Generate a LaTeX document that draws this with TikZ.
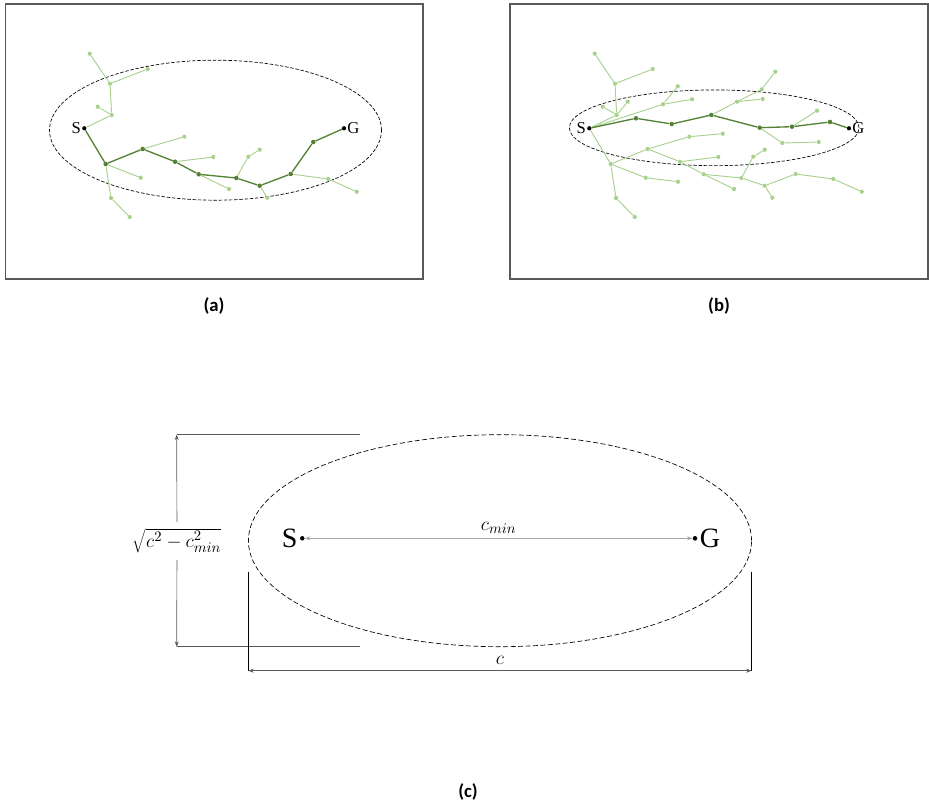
\documentclass[tikz,border=0pt]{standalone}
\usepackage{fontspec}
\setmainfont{Liberation Serif}
\newfontfamily\capfont{Carlito}
\usetikzlibrary{arrows.meta}
\definecolor{framegray}{HTML}{595959}
\definecolor{rulegray}{HTML}{A6A6A6}
\definecolor{pathgreen}{HTML}{548235}
\definecolor{treegreen}{HTML}{A9D18E}
\tikzset{
  panel/.style={draw=framegray,line width=0.8pt},
  region/.style={draw=black,dash pattern=on 2.6pt off 1.3pt,line width=0.5pt},
  branch/.style={draw=treegreen,line width=0.7pt},
  route/.style={draw=pathgreen,line width=1pt},
  leaf/.style={circle,fill=treegreen,inner sep=0pt,minimum size=3.2pt},
  hop/.style={circle,fill=pathgreen,inner sep=0pt,minimum size=3.4pt},
  term/.style={circle,fill=black,inner sep=0pt,minimum size=3.2pt},
  endlabel/.style={font=\fontsize{12.5}{14}\selectfont,inner sep=0.6pt},
  caption/.style={font=\capfont\bfseries\fontsize{14}{16}\selectfont}
}

\begin{document}
\begin{tikzpicture}[
  x=0.75pt,y=-0.75pt,
  tip/.style={-{Stealth[length=4pt,width=3pt]}},
  measure/.style={tip,draw=framegray,line width=0.5pt},
  guide/.style={draw=framegray,line width=0.9pt},
  tick/.style={draw=black,line width=0.9pt},
  bigend/.style={font=\fontsize{21}{24}\selectfont,inner sep=1.5pt},
  mathlabel/.style={font=\fontsize{15}{17}\selectfont}
]
  \useasboundingbox (0,0) rectangle (929,806);

  % (a)
  \draw[panel] (5.5,4) rectangle (423,279);
  \draw[region] (215.5,130.2) ellipse [x radius=124.5pt,y radius=52.5pt];
  \foreach \n/\x/\y in {u1/111.7/115,u2/97.7/106.7,u3/110/83.7,u4/89.7/53.7,
      u5/147.7/69,b1/140.7/177.7,b2/111/198,b3/129.7/217,b4/184.3/136.7,
      b5/213.3/157,b6/229/189,b7/248.3/156.7,b8/259.7/149.7,b9/267.3/197.7,
      b10/328.3/179,b11/356.7/191.7}
    \node[leaf] (a-\n) at (\x,\y) {};
  \foreach \n/\x/\y in {p1/105.7/164,p2/142.7/149,p3/175/161.7,p4/198.7/174.3,
      p5/236.3/178,p6/259.7/185.7,p7/290.7/174,p8/313.3/142}
    \node[hop] (a-\n) at (\x,\y) {};
  \node[term] (a-s) at (84.3,128.3) {};
  \node[term] (a-g) at (344,128.3) {};
  \node[endlabel,anchor=east] (a-slabel) at (a-s.west) {S};
  \node[endlabel,anchor=west] (a-glabel) at (a-g.east) {G};
  \foreach \u/\v in {s/u1,u1/u2,u1/u3,u3/u4,u3/u5,p1/b1,p1/b2,b2/b3,p2/b4,
      p3/b5,p4/b6,p5/b7,b7/b8,p6/b9,p7/b10,b10/b11}
    \draw[branch] (a-\u)--(a-\v);
  \foreach \u/\v in {s/p1,p1/p2,p2/p3,p3/p4,p4/p5,p5/p6,p6/p7,p7/p8,p8/g}
    \draw[route] (a-\u)--(a-\v);
  \node[caption] (a-cap) at (214,306) {(a)};

  % (b)
  \draw[panel] (510,4) rectangle (928,279);
  \begin{scope}[shift={(505,0)}]
    \draw[region] (209.2,127.8) ellipse [x radius=108.6pt,y radius=28.4pt];
    \foreach \n/\x/\y in {u1/111.7/115,u2/97.7/106.7,u3/110/83.7,u4/89.7/53.7,
        u5/147.7/69,u6/122.7/101.7,b1/140.7/177.7,b2/111/198,b3/129.7/217,
        b4/184.3/136.7,b5/213.3/157,b6/229/189,b7/248.3/156.7,b8/259.7/149.7,
        b9/267.3/197.7,b10/328.3/179,b11/356.7/191.7,p1/105.7/164,p2/142.7/149,
        p3/175/161.7,p4/198.7/174.3,p5/236.3/178,p6/259.7/185.7,p7/290.7/174,
        c1/158/104.3,c2/172.7/86.3,c3/187/99.3,c4/232/101.7,c5/256.7/89.3,
        c6/270.3/71.7,c7/257.7/99,c8/277.3/143,c9/313.7/142,c10/312/110.7,
        c11/173/181.7,c12/217.7/133.7}
      \node[leaf] (b-\n) at (\x,\y) {};
    \foreach \n/\x/\y in {q1/131/118.3,q2/166.7/124,q3/206.3/115,
        q4/254.7/127.7,q5/287/126.7,q6/325/122}
      \node[hop] (b-\n) at (\x,\y) {};
    \node[term] (b-s) at (84.3,128.3) {};
    \node[term] (b-g) at (344,128.3) {};
    \node[endlabel,anchor=east] (b-slabel) at (b-s.west) {S};
    \node[endlabel,anchor=west] (b-glabel) at (b-g.east) {G};
    \foreach \u/\v in {s/u1,u1/u2,u1/u3,u3/u4,u3/u5,u1/u6,s/c1,c1/c2,c1/c3,
        s/p1,p1/p2,p2/p3,p3/p4,p4/p5,p5/p6,p6/p7,p1/b1,b1/c11,p1/b2,b2/b3,
        p2/b4,b4/c12,p3/b5,p4/b6,p5/b7,b7/b8,p6/b9,p7/b10,b10/b11,
        q3/c4,c4/c5,c5/c6,c4/c7,q4/c8,c8/c9,q5/c10}
      \draw[branch] (b-\u)--(b-\v);
    \foreach \u/\v in {s/q1,q1/q2,q2/q3,q3/q4,q4/q5,q5/q6,q6/g}
      \draw[route] (b-\u)--(b-\v);
  \end{scope}
  \node[caption] (b-cap) at (719,306) {(b)};

  % (c)
  \draw[region,dash pattern=on 3.7pt off 1.9pt] (500,540.7)
    ellipse [x radius=188.7pt,y radius=79.5pt];
  \node[term,minimum size=3.4pt] (c-s) at (302.3,538.3) {};
  \node[term,minimum size=3.4pt] (c-g) at (695,538.3) {};
  \node[bigend,anchor=east] (c-slabel) at (c-s.west) {S};
  \node[bigend,anchor=west] (c-glabel) at (c-g.east) {G};
  \draw[{Stealth[length=4pt,width=3pt]}-{Stealth[length=4pt,width=3pt]},
    draw=rulegray,line width=1pt] (c-s)--node[mathlabel,above=0pt] {$c_{min}$} (c-g);

  \coordinate (htop) at (176.7,434.7);
  \coordinate (hbot) at (176.7,646.7);
  \coordinate (htopend) at (360,434.7);
  \coordinate (hbotend) at (360,646.7);
  \draw[guide] (htop)--(htopend);
  \draw[guide] (hbot)--(hbotend);
  \node[mathlabel,inner ysep=5pt,inner xsep=1pt] (height) at (177,541)
    {$\sqrt{c^2-c_{min}^2}$};
  \draw[measure] (height)--(htop);
  \draw[measure] (height)--(hbot);

  \coordinate (wleft) at (248.3,571.7);
  \coordinate (wright) at (751.5,571.7);
  \coordinate (wleftend) at (248.3,670.7);
  \coordinate (wrightend) at (751.5,670.7);
  \draw[tick] (wleft)--(wleftend);
  \draw[tick] (wright)--(wrightend);
  \draw[{Stealth[length=4pt,width=3pt]}-{Stealth[length=4pt,width=3pt]},
    draw=framegray,line width=0.6pt] (wleftend)--node[mathlabel,above=1pt] {$c$} (wrightend);
  \node[caption] (c-cap) at (468,792) {(c)};
\end{tikzpicture}
\end{document}
